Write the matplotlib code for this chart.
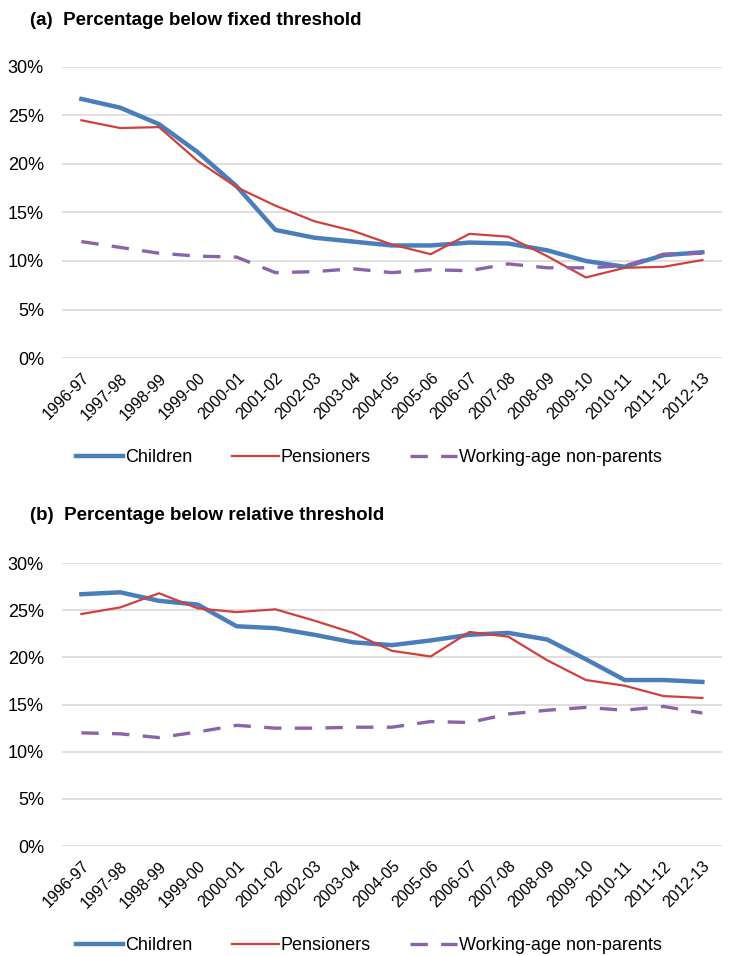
import matplotlib.pyplot as plt
import numpy as np

plt.rcParams['font.family'] = ['Liberation Sans', 'DejaVu Sans']

years = ["1996-97", "1997-98", "1998-99", "1999-00", "2000-01", "2001-02",
         "2002-03", "2003-04", "2004-05", "2005-06", "2006-07", "2007-08",
         "2008-09", "2009-10", "2010-11", "2011-12", "2012-13"]

# (a) fixed threshold, %
children_fixed = [26.7, 25.8, 24.1, 21.2, 17.7, 13.2, 12.4, 12.0, 11.6, 11.6,
                  11.9, 11.8, 11.1, 10.0, 9.4, 10.6, 10.9]
pensioners_fixed = [24.5, 23.7, 23.8, 20.3, 17.6, 15.7, 14.1, 13.1, 11.7, 10.7,
                    12.8, 12.5, 10.5, 8.3, 9.3, 9.4, 10.1]
nonparents_fixed = [12.0, 11.4, 10.8, 10.5, 10.4, 8.8, 8.9, 9.2, 8.8, 9.1,
                    9.0, 9.7, 9.3, 9.3, 9.5, 10.7, 10.8]

# (b) relative threshold, %
children_rel = [26.7, 26.9, 26.0, 25.6, 23.3, 23.1, 22.4, 21.6, 21.3, 21.8,
                22.4, 22.6, 21.9, 19.8, 17.6, 17.6, 17.4]
pensioners_rel = [24.6, 25.3, 26.8, 25.2, 24.8, 25.1, 23.9, 22.6, 20.7, 20.1,
                  22.7, 22.2, 19.7, 17.6, 17.0, 15.9, 15.7]
nonparents_rel = [12.0, 11.9, 11.5, 12.1, 12.8, 12.5, 12.5, 12.6, 12.6, 13.2,
                  13.1, 14.0, 14.4, 14.7, 14.4, 14.8, 14.1]

yticks = [0, 5, 10, 15, 20, 25, 30]

blue = "#4a7ebb"
red = "#d0413e"
purple = "#8a64a8"

fig = plt.figure(figsize=(7.38, 9.56), dpi=100)
ax1 = fig.add_axes([0.084, 0.6255, 0.894, 0.3045])
ax2 = fig.add_axes([0.084, 0.115, 0.894, 0.296])

panels = [
    (ax1, "(a)  Percentage below fixed threshold", 0.979,
     children_fixed, pensioners_fixed, nonparents_fixed, 0.521),
    (ax2, "(b)  Percentage below relative threshold", 0.461,
     children_rel, pensioners_rel, nonparents_rel, 0.0105),
]

x = np.arange(len(years))
for ax, title, ty, ch, pe, npar, ly in panels:
    ax.plot(x, ch, color=blue, lw=3.2, label="Children", solid_joinstyle="round")
    ax.plot(x, pe, color=red, lw=1.6, label="Pensioners")
    ax.plot(x, npar, color=purple, lw=2.4, dashes=(5.2, 4),
            label="Working-age non-parents")
    ax.set_ylim(0, 30)
    ax.set_xlim(-0.5, len(years) - 0.5)
    ax.set_yticks(yticks)
    ax.set_yticklabels([f"{v}%" for v in yticks])
    ax.set_xticks(x)
    ax.set_xticklabels(years, rotation=45, ha="right", rotation_mode="anchor")
    ax.tick_params(axis="y", length=0, labelsize=13, pad=13)
    ax.tick_params(axis="x", length=0, labelsize=11.5, pad=9)
    ax.grid(axis="y", color="#dcdcdc", lw=1.3)
    ax.set_axisbelow(True)
    for s in ax.spines.values():
        s.set_visible(False)
    fig.text(0.04, ty, title, fontsize=13.5, fontweight="bold", va="center")
    fig.legend(*ax.get_legend_handles_labels(), loc="center",
               bbox_to_anchor=(0.5, ly), ncol=3, frameon=False, fontsize=13,
               handlelength=2.6, handletextpad=0.1, columnspacing=2.2)

fig.savefig("out.png", dpi=100)
